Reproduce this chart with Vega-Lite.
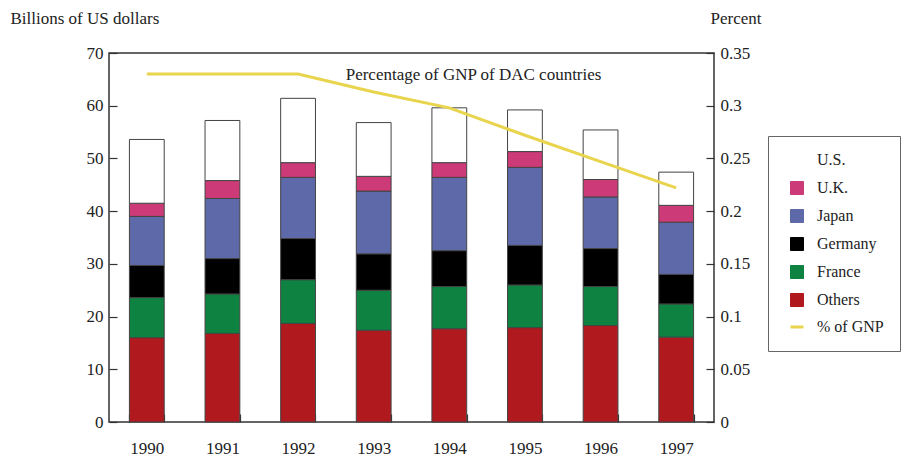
{
  "$schema": "https://vega.github.io/schema/vega-lite/v6.json",
  "width": 605,
  "height": 369,
  "autosize": {"type": "none"},
  "padding": {"left": 109, "top": 53, "right": 193, "bottom": 38},
  "background": "white",
  "config": {
    "font": "Liberation Serif",
    "view": {"stroke": "#333", "strokeWidth": 1.5},
    "axis": {"labelFont": "Liberation Serif", "titleFont": "Liberation Serif", "labelColor": "#222", "titleColor": "#222", "labelFontSize": 17, "titleFontSize": 17, "titleFontWeight": "normal", "grid": false, "domain": false, "tickColor": "#333", "tickWidth": 1.2},
    "legend": {"labelFont": "Liberation Serif", "labelFontSize": 16, "labelColor": "#222"}
  },
  "datasets": {
    "aid": [
      {"year": "1990", "series": "Others", "value": 16.0},
      {"year": "1990", "series": "France", "value": 7.6},
      {"year": "1990", "series": "Germany", "value": 6.1},
      {"year": "1990", "series": "Japan", "value": 9.3},
      {"year": "1990", "series": "U.K.", "value": 2.5},
      {"year": "1990", "series": "U.S.", "value": 12.1},
      {"year": "1991", "series": "Others", "value": 16.8},
      {"year": "1991", "series": "France", "value": 7.5},
      {"year": "1991", "series": "Germany", "value": 6.7},
      {"year": "1991", "series": "Japan", "value": 11.4},
      {"year": "1991", "series": "U.K.", "value": 3.4},
      {"year": "1991", "series": "U.S.", "value": 11.4},
      {"year": "1992", "series": "Others", "value": 18.7},
      {"year": "1992", "series": "France", "value": 8.3},
      {"year": "1992", "series": "Germany", "value": 7.8},
      {"year": "1992", "series": "Japan", "value": 11.6},
      {"year": "1992", "series": "U.K.", "value": 2.8},
      {"year": "1992", "series": "U.S.", "value": 12.2},
      {"year": "1993", "series": "Others", "value": 17.4},
      {"year": "1993", "series": "France", "value": 7.6},
      {"year": "1993", "series": "Germany", "value": 6.9},
      {"year": "1993", "series": "Japan", "value": 11.9},
      {"year": "1993", "series": "U.K.", "value": 2.8},
      {"year": "1993", "series": "U.S.", "value": 10.2},
      {"year": "1994", "series": "Others", "value": 17.7},
      {"year": "1994", "series": "France", "value": 8.0},
      {"year": "1994", "series": "Germany", "value": 6.8},
      {"year": "1994", "series": "Japan", "value": 13.9},
      {"year": "1994", "series": "U.K.", "value": 2.8},
      {"year": "1994", "series": "U.S.", "value": 10.4},
      {"year": "1995", "series": "Others", "value": 17.9},
      {"year": "1995", "series": "France", "value": 8.1},
      {"year": "1995", "series": "Germany", "value": 7.5},
      {"year": "1995", "series": "Japan", "value": 14.8},
      {"year": "1995", "series": "U.K.", "value": 3.0},
      {"year": "1995", "series": "U.S.", "value": 7.9},
      {"year": "1996", "series": "Others", "value": 18.3},
      {"year": "1996", "series": "France", "value": 7.4},
      {"year": "1996", "series": "Germany", "value": 7.2},
      {"year": "1996", "series": "Japan", "value": 9.8},
      {"year": "1996", "series": "U.K.", "value": 3.3},
      {"year": "1996", "series": "U.S.", "value": 9.4},
      {"year": "1997", "series": "Others", "value": 16.1},
      {"year": "1997", "series": "France", "value": 6.3},
      {"year": "1997", "series": "Germany", "value": 5.6},
      {"year": "1997", "series": "Japan", "value": 9.9},
      {"year": "1997", "series": "U.K.", "value": 3.2},
      {"year": "1997", "series": "U.S.", "value": 6.3}
    ],
    "gnp": [
      {"year": "1990", "series": "% of GNP", "pct": 0.33},
      {"year": "1991", "series": "% of GNP", "pct": 0.33},
      {"year": "1992", "series": "% of GNP", "pct": 0.33},
      {"year": "1993", "series": "% of GNP", "pct": 0.313},
      {"year": "1994", "series": "% of GNP", "pct": 0.298},
      {"year": "1995", "series": "% of GNP", "pct": 0.272},
      {"year": "1996", "series": "% of GNP", "pct": 0.247},
      {"year": "1997", "series": "% of GNP", "pct": 0.222}
    ],
    "note": [
      {"year": "1993", "pct": 0.329, "label": "Percentage of GNP of DAC countries"}
    ]
  },
  "encoding": {
    "x": {
      "field": "year", "type": "nominal",
      "scale": {"paddingInner": 0.54, "paddingOuter": 0.27},
      "axis": {"title": null, "labelAngle": 0, "tickBand": "extent", "tickSize": -8, "labelPadding": 26}
    }
  },
  "layer": [
    {
      "data": {"name": "aid"},
      "transform": [
        {"calculate": "indexof(['Others','France','Germany','Japan','U.K.','U.S.'], datum.series)", "as": "stackOrder"}
      ],
      "mark": {"type": "bar", "stroke": "#444", "strokeWidth": 1},
      "encoding": {
        "y": {
          "field": "value", "type": "quantitative", "stack": "zero",
          "scale": {"domain": [0, 70], "nice": false},
          "axis": {"title": "Billions of US dollars", "values": [0, 10, 20, 30, 40, 50, 60, 70], "tickSize": -8, "labelPadding": 14, "titleAngle": 0, "titleAlign": "left", "titleBaseline": "middle", "titleX": -99, "titleY": -35}
        },
        "color": {
          "field": "series", "type": "nominal",
          "scale": {
            "domain": ["U.S.", "U.K.", "Japan", "Germany", "France", "Others", "% of GNP"],
            "range": ["#ffffff", "#cc3a77", "#5d69a9", "#000000", "#0e8240", "#b0191e", "#e8d44d"]
          },
          "legend": {
            "title": null,
            "orient": "none",
            "legendX": 659,
            "legendY": 83,
            "padding": 16,
            "strokeColor": "#666",
            "fillColor": "white",
            "symbolSize": 169,
            "symbolOffset": 5,
            "rowPadding": 10,
            "labelOffset": 12,
            "symbolType": {"expr": "datum.value === '% of GNP' ? 'stroke' : 'square'"},
            "symbolStrokeWidth": {"expr": "datum.value === '% of GNP' ? 3 : 1"},
            "encode": {
              "symbols": {
                "stroke": {"signal": "datum.value === '% of GNP' ? '#e8d44d' : '#555'"},
                "strokeWidth": {"signal": "datum.value === '% of GNP' ? 3 : 1"}
              }
            }
          }
        },
        "order": {"field": "stackOrder", "type": "quantitative"}
      }
    },
    {
      "layer": [
        {
          "data": {"name": "gnp"},
          "mark": {"type": "line", "strokeWidth": 3},
          "encoding": {
            "y": {
              "field": "pct", "type": "quantitative",
              "scale": {"domain": [0, 0.35], "nice": false},
              "axis": {"orient": "right", "title": "Percent", "format": ".2~f", "values": [0, 0.05, 0.1, 0.15, 0.2, 0.25, 0.3, 0.35], "tickSize": -8, "labelPadding": 14, "titleAngle": 0, "titleAlign": "left", "titleBaseline": "middle", "titleX": -4, "titleY": -35}
            },
            "color": {"field": "series", "type": "nominal", "legend": null}
          }
        },
        {
          "data": {"name": "note"},
          "mark": {"type": "text", "align": "left", "baseline": "middle", "dx": -28, "fontSize": 17, "font": "Liberation Serif", "color": "#222"},
          "encoding": {
            "y": {"field": "pct", "type": "quantitative"},
            "text": {"field": "label"}
          }
        }
      ]
    }
  ],
  "resolve": {"scale": {"y": "independent"}}
}
